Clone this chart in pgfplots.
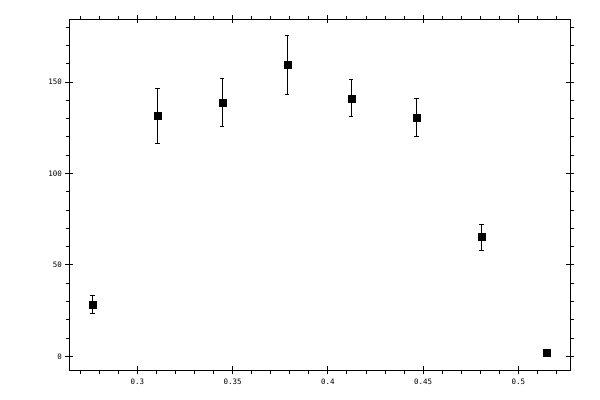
\documentclass[border=0pt]{standalone}
\usepackage{fontspec}
\setmonofont{DejaVu Sans Mono}
\usepackage{pgfplots}
\pgfplotsset{compat=1.18}

\pgfplotsset{
  commonaxis/.style={
    scale only axis,
    width=501bp, height=351bp,
    xmin=0.2643, xmax=0.5273,
    ymin=-7.65, ymax=184.3,
    xtick={0.3,0.35,0.4,0.45,0.5},
    ytick={0,50,100,150},
    xtick pos=both, ytick pos=both,
    tick style={line width=0.8bp, black},
  },
}

\begin{document}
\begin{tikzpicture}
\useasboundingbox (-69.3bp,-29.7bp) rectangle (530.7bp,370.3bp);

\begin{axis}[
    commonaxis,
    axis line style={line width=0.8bp},
    minor xtick={0.27,0.28,0.29,0.31,0.32,0.33,0.34,0.36,0.37,0.38,0.39,
                 0.41,0.42,0.43,0.44,0.46,0.47,0.48,0.49,0.51,0.52},
    minor ytick={10,20,30,40,60,70,80,90,110,120,130,140,160,170,180},
    tick align=outside,
    major tick length=4bp,
    minor tick length=3.5bp,
    xticklabel pos=left, yticklabel pos=left,
    ticklabel style={font=\ttfamily\fontsize{7.5}{8}\selectfont},
    xticklabel style={yshift=-1.5bp},
    /pgf/number format/assume math mode=true,
]
\addplot[
    only marks, black,
    mark=square*, mark size=3.5bp,
    error bars/.cd,
      y dir=both, y explicit,
      error bar style={line width=0.8bp},
      error mark options={rotate=90, mark size=2.2bp, line width=0.8bp},
]
table[x=x, y=y, y error=e] {
x       y       e
0.2764  28.4    4.9
0.3105  131.4   15.2
0.3446  138.9   13.0
0.3787  159.3   16.0
0.4123  141.1   10.1
0.4465  130.7   10.6
0.4806  65.2    7.1
0.5147  2.2     1.0
};
\end{axis}

% inner halves of the major ticks
\begin{axis}[
    commonaxis,
    axis line style={draw=none},
    xticklabels={}, yticklabels={},
    tick align=inside,
    major tick length=4bp,
]
\end{axis}
\end{tikzpicture}
\end{document}
